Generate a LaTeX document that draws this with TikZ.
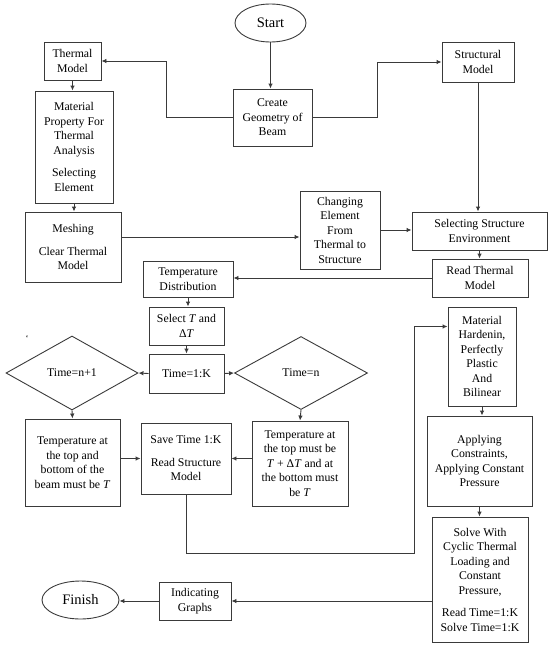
\documentclass[tikz,border=0pt]{standalone}
\usepackage{fontspec}
\setmainfont{Liberation Serif}
\usetikzlibrary{shapes.geometric, arrows.meta}
\definecolor{linegray}{HTML}{3a3a3a}

\tikzset{
  box/.style={draw=linegray, line width=0.9pt, align=center, inner sep=1pt,
    font=\fontsize{11.8}{14.5}\selectfont},
  boxsize/.style 2 args={minimum width=#1, minimum height=#2},
  terminal/.style={ellipse, draw=linegray, line width=0.9pt, inner sep=0pt,
    font=\fontsize{14.5}{16}\selectfont},
  decision/.style={diamond, aspect=1.8, draw=linegray, line width=0.9pt,
    inner sep=1pt, font=\fontsize{11.8}{14.5}\selectfont},
  flow/.style={draw=linegray, line width=0.9pt, -{Latex[length=5pt,width=4.5pt]}}
}

\begin{document}
\begin{tikzpicture}[x=1pt, y=-1pt]
  \useasboundingbox (0,0) rectangle (550,645);

  % top row
  \node[terminal, minimum width=71pt, minimum height=38pt] (start) at (270.5,23) {Start};
  \node[box, boxsize={79pt}{57pt}] (geom) at (272.5,117.5) {Create\\Geometry of\\Beam};
  \node[box, boxsize={57pt}{38pt}] (thm) at (72.5,61) {Thermal\\Model};
  \node[box, boxsize={72pt}{40pt}] (str) at (478,62) {Structural\\Model};

  % thermal side
  \node[box, boxsize={78pt}{112pt}] (mat) at (74,147)
    {Material\\Property For\\Thermal\\Analysis\\[8pt]Selecting\\Element};
  \node[box, boxsize={96pt}{70pt}] (mesh) at (73,247) {Meshing\\[8pt]Clear Thermal\\Model};
  \node[box, boxsize={80pt}{78pt}] (chg) at (340,230)
    {Changing\\Element\\From\\Thermal to\\Structure};

  % structural side
  \node[box, boxsize={135pt}{38pt}] (sel) at (479.5,231) {Selecting Structure\\Environment};
  \node[box, boxsize={96pt}{38pt}] (rth) at (480,278) {Read Thermal\\Model};

  % temperature loop
  \node[box, boxsize={90pt}{36pt}] (tdist) at (188,279) {Temperature\\Distribution};
  \node[box, boxsize={75pt}{38pt}] (selT) at (186.5,326) {Select \textit{T} and\\Δ\textit{T}};
  \node[box, boxsize={75pt}{39pt}] (tk) at (186.5,373.5) {Time=1:K};
  \node[decision, minimum width=132pt, minimum height=74pt] (dl) at (72,373) {Time=n+1};
  \node[decision, minimum width=133pt, minimum height=73pt] (dr) at (301,373) {Time=n};
  \node[font=\fontsize{9}{10}\selectfont, inner sep=0pt] (tick) at (27,338) {`};

  \node[box, boxsize={95pt}{87pt}] (tb) at (72.5,462.5)
    {Temperature at\\the top and\\bottom of the\\beam must be \textit{T}};
  \node[box, boxsize={90pt}{71pt}] (save) at (186,458.5)
    {Save Time 1:K\\[8pt]Read Structure\\Model};
  \node[box, boxsize={96pt}{85pt}] (tt) at (300,463.5)
    {Temperature at\\the top must be\\\textit{T} + Δ\textit{T} and at\\the bottom must\\be \textit{T}};

  % solution column
  \node[box, boxsize={68pt}{99pt}] (mh) at (482,356.5)
    {Material\\Hardenin,\\Perfectly\\Plastic\\And\\Bilinear};
  \node[box, boxsize={105pt}{90pt}] (app) at (479.5,461)
    {Applying\\Constraints,\\Applying Constant\\Pressure};
  \node[box, boxsize={96pt}{125pt}] (solve) at (480,579.5)
    {Solve With\\Cyclic Thermal\\Loading and\\Constant\\Pressure,\\[8pt]Read Time=1:K\\Solve Time=1:K};

  % bottom row
  \node[box, boxsize={72pt}{38pt}] (graph) at (195,601) {Indicating\\Graphs};
  \node[terminal, minimum width=77pt, minimum height=38pt] (fin) at (80.5,600) {Finish};

  \coordinate (bend) at (414,553);

  % connectors
  \draw[flow] (start.south) -- (start.south |- geom.north);
  \draw[flow] (geom.west) -- ++(-66,0) |- (thm.east);
  \draw[flow] (geom.east) -- ++(65,0) |- (str.west);
  \draw[flow] (thm.south) -- (thm.south |- mat.north);
  \draw[flow] (mat.south) -- (mat.south |- mesh.north);
  \draw[flow] ([yshift=10pt]mesh.east) -- ([yshift=10pt]mesh.east -| chg.west);
  \draw[flow] (chg.east) -- (chg.east -| sel.west);
  \draw[flow] (str.south) -- (str.south |- sel.north);
  \draw[flow] (sel.south) -- (sel.south |- rth.north);
  \draw[flow] (rth.west) -- (rth.west -| tdist.east);
  \draw[flow] (tdist.south) -- (tdist.south |- selT.north);
  \draw[flow] (selT.south) -- (tk.north);
  \draw[flow] (tk.west) -- (dl.east);
  \draw[flow] (tk.east) -- (dr.west);
  \draw[flow] (dl.south) -- (tb.north);
  \draw[flow] (dr.south) -- (tt.north);
  \draw[flow] (tb.east |- save.west) -- (save.west);
  \draw[flow] (tt.west |- save.east) -- (save.east);
  \draw[flow] (save.south) |- (bend) |- ([yshift=30pt]mh.west);
  \draw[flow] (mh.south) -- (mh.south |- app.north);
  \draw[flow] (app.south) -- (app.south |- solve.north);
  \draw[flow] (solve.west |- graph.east) -- (graph.east);
  \draw[flow] (graph.west) -- (graph.west -| fin.east);
\end{tikzpicture}
\end{document}
